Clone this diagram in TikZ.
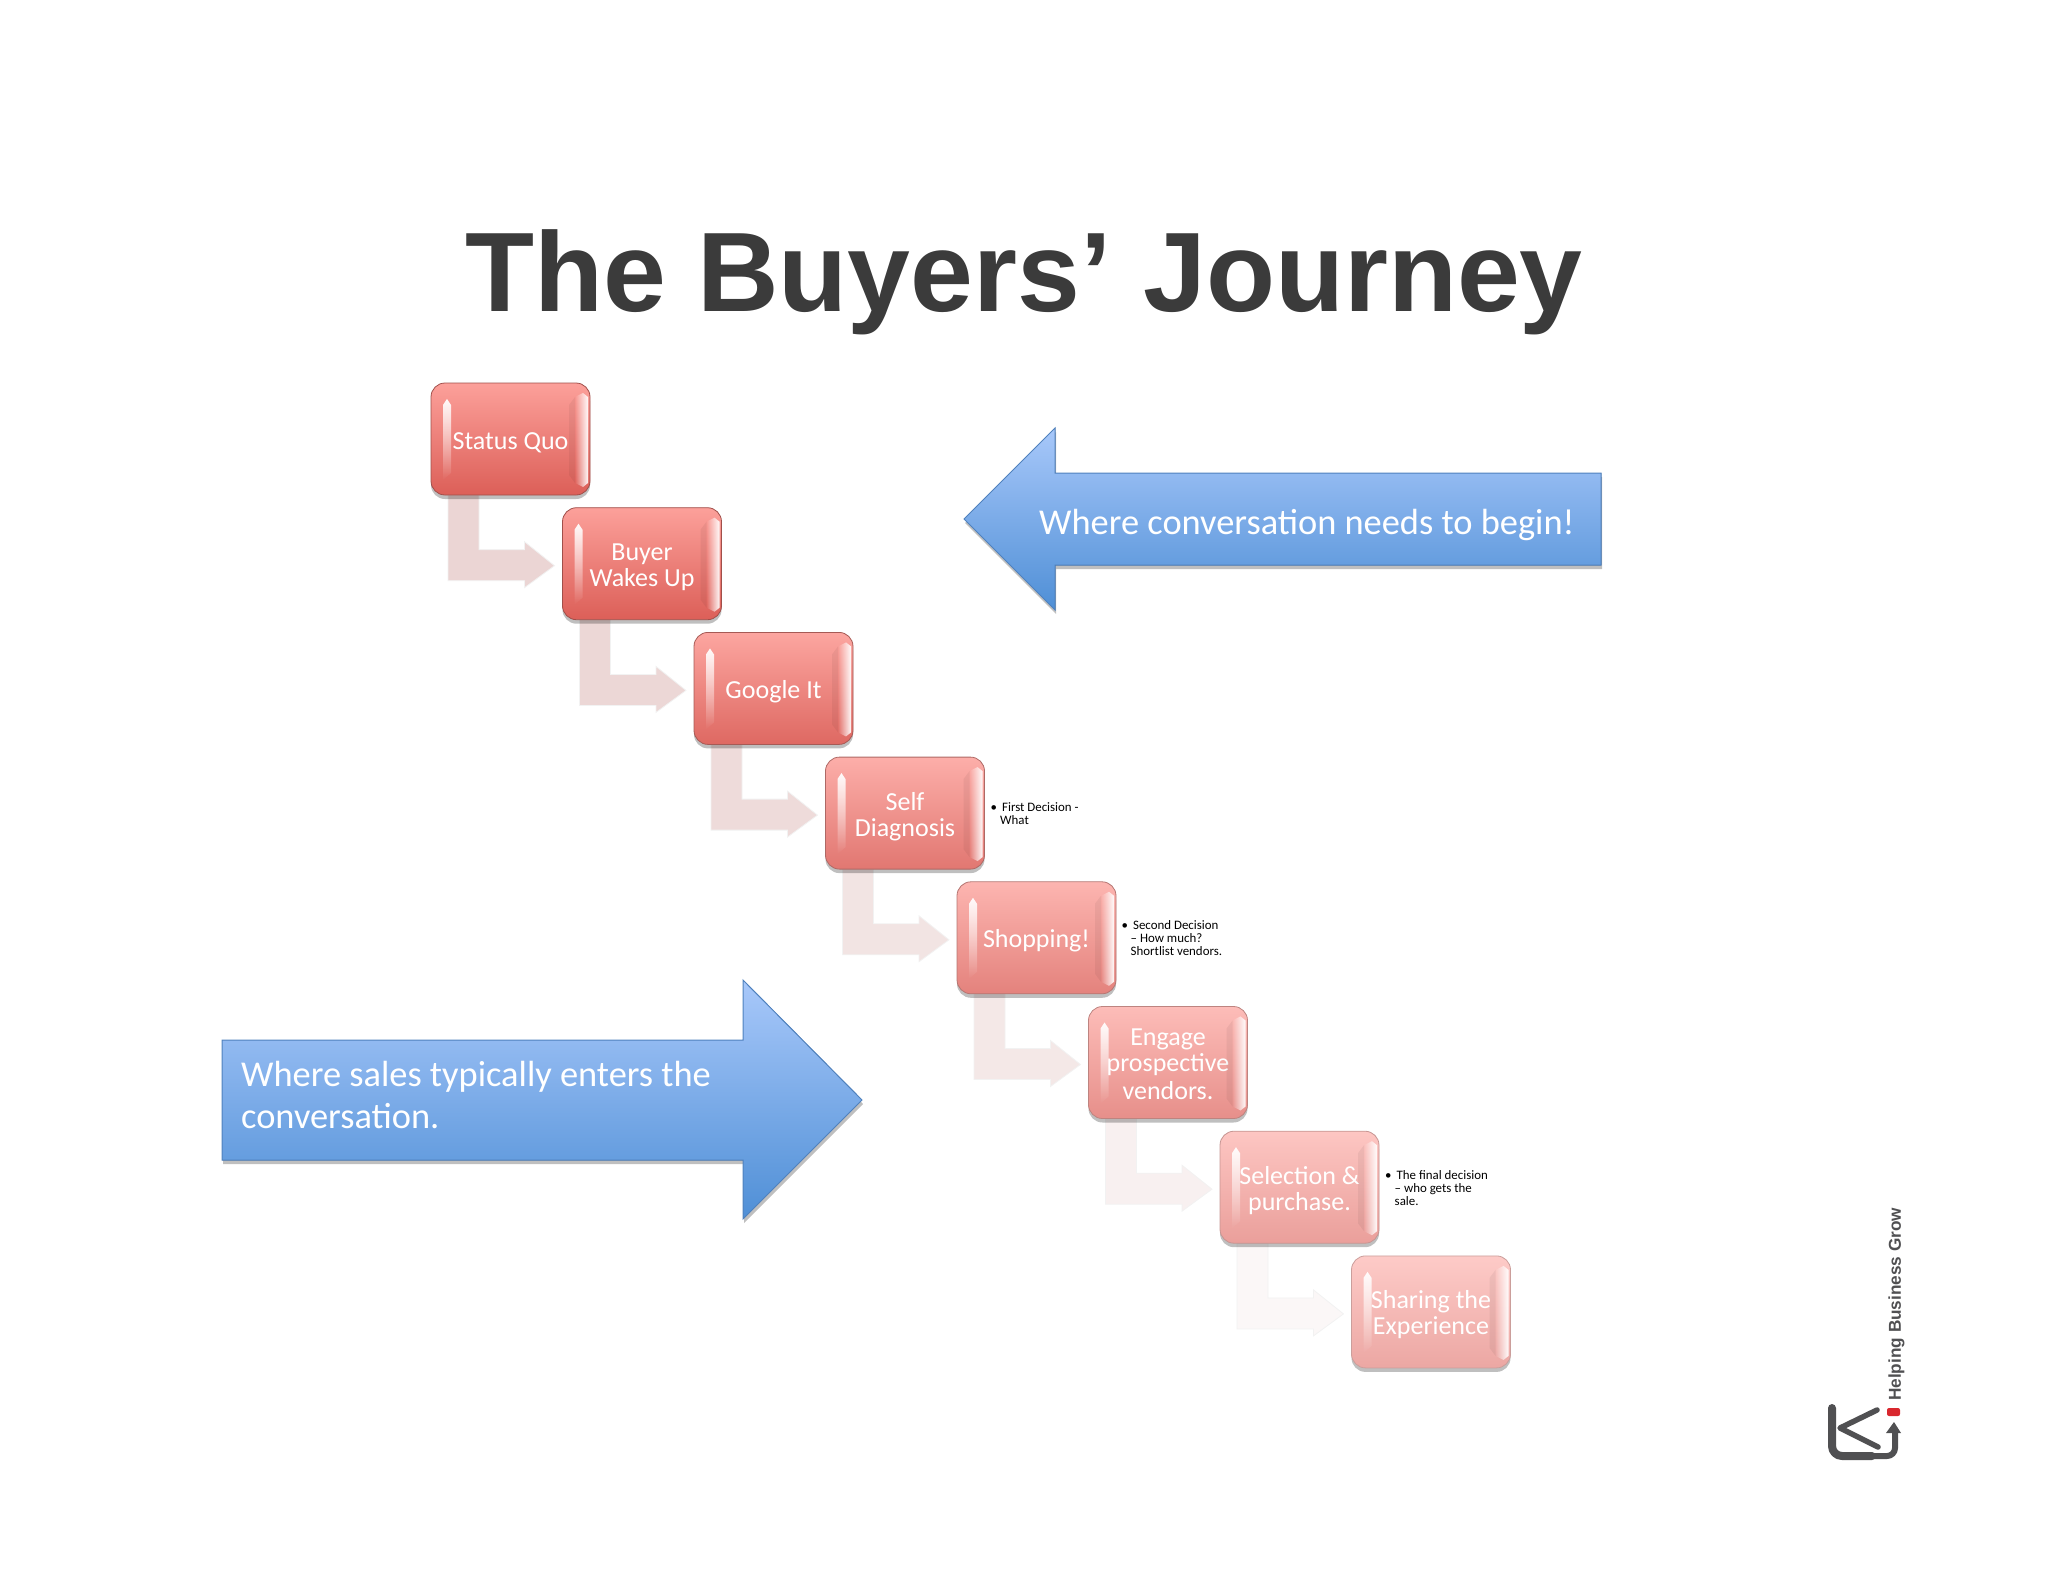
\documentclass[tikz,border=0pt]{standalone}
\usepackage{fontspec}
\setmainfont{Carlito}
\newfontfamily\arialfont{Liberation Sans}
\usetikzlibrary{positioning,calc,shadows,fadings,backgrounds}
\definecolor{steptop}{HTML}{FCA09A}
\definecolor{stepbottom}{HTML}{DC5F58}
\definecolor{stepedge}{HTML}{A04F4A}
\definecolor{bentred}{HTML}{EBD5D4}
\definecolor{bluetop}{HTML}{A8C8FA}
\definecolor{bluebottom}{HTML}{4F8FD6}
\definecolor{blueedge}{HTML}{4F81BD}
\definecolor{titlegray}{HTML}{3B3B3B}
\definecolor{logogray}{HTML}{505052}
\definecolor{logored}{HTML}{D9272E}
\tikzset{
   stepbox/.style={draw=stepedge!#1!white, line width=.8pt, rounded corners=14pt,
      top color=steptop!#1!white, bottom color=stepbottom!#1!white,
      text width=159pt, minimum height=112pt, outer sep=0pt, inner sep=0pt,
      text=white, align=flush center, font=\fontsize{26}{26}\selectfont,
      execute at begin node={\rule{0pt}{28pt}}, execute at end node={\rule[-8pt]{0pt}{8pt}},
      drop shadow={shadow xshift=0pt, shadow yshift=-4pt, opacity=.25, fill=black}},
   bentarrow/.style={fill=bentred!#1!white, draw=black!5!white, line width=.8pt},
   bluearrow/.style={draw=blueedge, line width=1pt, top color=bluetop, bottom color=bluebottom,
      drop shadow={shadow xshift=1pt, shadow yshift=-4pt, opacity=.25, fill=black}},
   arrowtext/.style={text=white, anchor=base west, align=left, inner sep=0pt,
      font=\fontsize{36.4}{42}\selectfont},
   notetext/.style={anchor=north west, align=left, inner sep=0pt,
      font=\fontsize{12.9}{13}\selectfont},
   logoline/.style={draw=logogray, line cap=round, line join=round},
}
\newcommand{\notebullet}{\textbullet\hspace{5pt}}
\begin{document}
\begin{tikzpicture}[x=1pt,y=-1pt]
   \useasboundingbox (0,0) rectangle (2048,1582);
   \node (title) [font=\arialfont\bfseries\fontsize{113}{113}\selectfont, text=titlegray,
      anchor=base, inner sep=0pt] at (1024,311) {The Buyers’ Journey};

   \node (quo) [stepbox=100] at (510.5,439) {Status Quo};
   \node (buyer) [stepbox=100, below right=12.7pt and -27.5pt of quo] {Buyer\\Wakes Up};
   \node (google) [stepbox=94, below right=12.7pt and -27.5pt of buyer] {Google It};
   \node (self) [stepbox=85, below right=12.7pt and -27.5pt of google] {Self\\Diagnosis};
   \node (shopping) [stepbox=78, below right=12.7pt and -27.5pt of self] {Shopping!};
   \node (engage) [stepbox=70, below right=12.7pt and -27.5pt of shopping] {Engage\\prospective\\[2pt]vendors.};
   \node (selection) [stepbox=60, below right=12.7pt and -27.5pt of engage] {Selection \&\\purchase.};
   \node (sharing) [stepbox=55, below right=12.7pt and -27.5pt of selection] {Sharing the\\Experience};

   % gloss on the sides of the boxes
   \foreach \stepname in {quo,buyer,google,self,shopping,engage,selection,sharing} {
      \fill[white, opacity=.95, path fading=south, shift={(\stepname.north west)}]
        (12,22) -- (16,16) -- (20,22) -- (20,90) -- (12,97) -- cycle;
      \fill[black, opacity=.05, shift={(\stepname.north west)}]
        (138,22) -- (144,14) -- (144,100) -- (138,92) -- cycle;
      \fill[white, opacity=.95, path fading=west, shift={(\stepname.north west)}]
        (144,14) -- (152,10) -- (157,14) -- (157,100) -- (152,104) -- (144,100) -- cycle;
   }

   \begin{pgfonlayer}{background}
   \foreach \from/\to/\tint in {quo/buyer/100, buyer/google/95, google/self/85, self/shopping/65,
         shopping/engage/55, engage/selection/35, selection/sharing/18}
      \filldraw[bentarrow=\tint] ($(\from.south west)+(17,0)$) -- ($(\from.south west)+(48,0)$)
         |- ($(\to.west)+(-38,-14)$) -- ($(\to.west)+(-38,-22)$) -- ($(\to.west)+(-8,2)$)
         -- ($(\to.west)+(-38,24)$) -- ($(\to.west)+(-38,17)$) -| cycle;
   \end{pgfonlayer}

   \node (firstnote) [notetext] at ($(self.north east)+(6,45)$) {\notebullet First Decision -\\\hspace{9.5pt}What};
   \node (secondnote) [notetext] at ($(shopping.north east)+(5.5,39)$) {\notebullet Second Decision\\\hspace{9pt}-- How much?\\\hspace{9pt}Shortlist vendors.};
   \node (thirdnote) [notetext] at ($(selection.north east)+(6,39)$) {\notebullet The final decision\\\hspace{9.5pt}-- who gets the\\\hspace{9.5pt}sale.};

   \filldraw[bluearrow] (964,519) -- (1055,428) -- (1055,473) -- (1601,473) -- (1601,565)
      -- (1055,565) -- (1055,610) -- cycle;
   \node (begintext) [arrowtext] at (1039,534) {Where conversation needs to begin!};

   \filldraw[bluearrow] (222,1040) -- (743,1040) -- (743,980) -- (862,1100) -- (743,1219)
      -- (743,1160) -- (222,1160) -- cycle;
   \node (salestext) [arrowtext, anchor=north west] at (241,1061) {Where sales typically enters the\\conversation.};

   \node (slogan) [rotate=90, anchor=west, inner sep=0pt, text=logogray,
      font=\arialfont\bfseries\fontsize{17.2}{17.2}\selectfont] at (1896.5,1401) {Helping Business Grow};
   \fill[logored, rounded corners=2pt] (1887,1408) rectangle (1900,1416);
   \draw[logoline, line width=8pt, rounded corners=10pt] (1832,1408) -- (1832,1456) -- (1872,1456);
   \draw[logoline, line width=6pt, rounded corners=8pt, line cap=butt] (1868,1456) -- (1895,1456) -- (1895,1430);
   \draw[logoline, line width=5.5pt] (1877,1410) -- (1840,1428) -- (1878,1447);
   \fill[logogray] (1894,1422) -- (1901,1433) -- (1886,1433) -- cycle;
\end{tikzpicture}
\end{document}
